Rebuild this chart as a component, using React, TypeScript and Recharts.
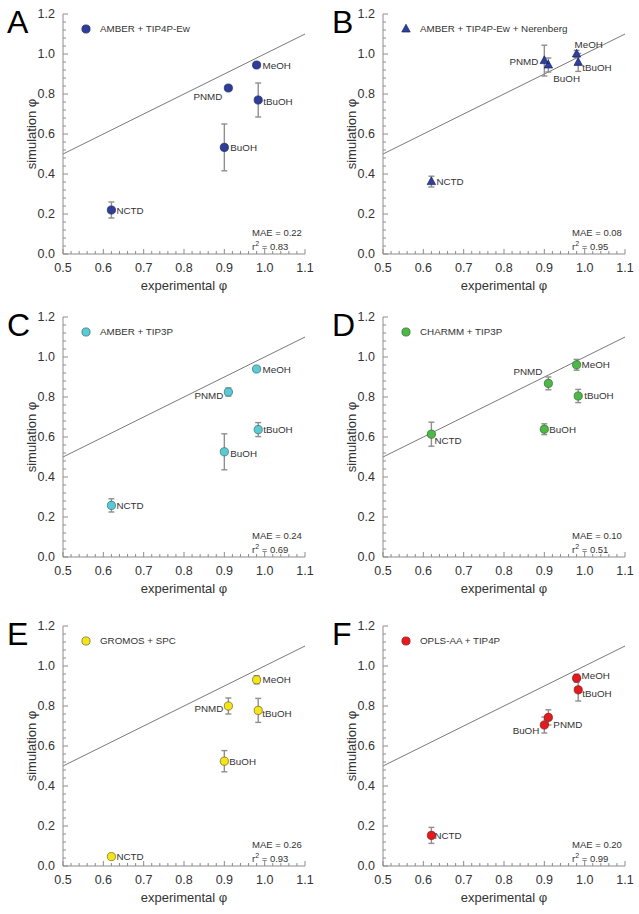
import React from 'react';
import { ScatterChart, Scatter, XAxis, YAxis, ErrorBar, ReferenceLine, Legend } from 'recharts';

// ---------- data ----------
const compounds = ['NCTD', 'PNMD', 'BuOH', 'MeOH', 'tBuOH'];
const experimental = [0.62, 0.91, 0.9, 0.98, 0.984];

const simA = [0.22, 0.83, 0.533, 0.945, 0.77];
const errA = [0.04, 0.01, 0.117, 0.0, 0.085];
const simB = [0.362, 0.945, 0.967, 1.0, 0.958];
const errB = [0.027, 0.035, 0.077, 0.018, 0.045];
const simC = [0.258, 0.825, 0.526, 0.94, 0.637];
const errC = [0.033, 0.02, 0.09, 0.0, 0.035];
const simD = [0.614, 0.868, 0.639, 0.961, 0.805];
const errD = [0.06, 0.032, 0.027, 0.027, 0.033];
const simE = [0.047, 0.8, 0.524, 0.931, 0.778];
const errE = [0.0, 0.04, 0.053, 0.02, 0.06];
const simF = [0.153, 0.743, 0.705, 0.939, 0.881];
const errF = [0.04, 0.038, 0.04, 0.02, 0.056];

const panelLetters = ['A', 'B', 'C', 'D', 'E', 'F'];
const panelNames = [
  'AMBER + TIP4P-Ew',
  'AMBER + TIP4P-Ew + Nerenberg',
  'AMBER + TIP3P',
  'CHARMM + TIP3P',
  'GROMOS + SPC',
  'OPLS-AA + TIP4P',
];
const maeValues = ['0.22', '0.08', '0.24', '0.10', '0.26', '0.20'];
const r2Values = ['0.83', '0.95', '0.69', '0.51', '0.93', '0.99'];

const xMajorTicks = [0.5, 0.6, 0.7, 0.8, 0.9, 1.0, 1.1];
const yMajorTicks = [0.0, 0.2, 0.4, 0.6, 0.8, 1.0, 1.2];
const identityLine = [0.5, 1.1];

// ---------- styling ----------
const FONT = '"Liberation Sans", Arial, Helvetica, sans-serif';
const FRAME = '#8c8c8c';
const TEXT = '#333';
const W = 320;
const H = 300;
const YW = 63;
const XH = 46;
const MT = 14;
const MR = 15;
const PLOT_H = H - MT - XH;

const styles = [
  { fill: '#2d3d99', stroke: '#1b245e', shape: 'circle' },
  { fill: '#2e3f9e', stroke: '#1b245e', shape: 'triangle' },
  { fill: '#5ccad3', stroke: '#2b6c78', shape: 'circle' },
  { fill: '#4db848', stroke: '#2c6a2a', shape: 'circle' },
  { fill: '#f4e41c', stroke: '#6d6512', shape: 'circle' },
  { fill: '#e31b1f', stroke: '#8a1212', shape: 'circle' },
];

const positions = [
  { left: 0, top: 0 },
  { left: 320, top: 0 },
  { left: 0, top: 303 },
  { left: 320, top: 303 },
  { left: 0, top: 612 },
  { left: 320, top: 612 },
];
const letterX = [7, 12, 7, 12, 7, 12];

// label offsets: [dx, dy(center), anchor]
const labelPos: Record<string, Record<string, [number, number, string]>> = {
  A: { MeOH: [6, 0, 'start'], PNMD: [-6, 8, 'end'], tBuOH: [5, 1, 'start'], BuOH: [6, 0, 'start'], NCTD: [5, 0, 'start'] },
  B: { MeOH: [-2, -10, 'start'], PNMD: [-10, -4, 'end'], tBuOH: [4, 5, 'start'], BuOH: [9, 18, 'start'], NCTD: [5, 0, 'start'] },
  C: { MeOH: [6, 0, 'start'], PNMD: [-5, 3, 'end'], tBuOH: [5, 0, 'start'], BuOH: [6, 2, 'start'], NCTD: [5, 0, 'start'] },
  D: { MeOH: [5, 0, 'start'], PNMD: [-6, -12, 'end'], tBuOH: [6, -1, 'start'], BuOH: [5, 0, 'start'], NCTD: [3, 6, 'start'] },
  E: { MeOH: [6, 0, 'start'], PNMD: [-5, 2, 'end'], tBuOH: [4, 3, 'start'], BuOH: [5, 0, 'start'], NCTD: [5, 0, 'start'] },
  F: { MeOH: [5, -3, 'start'], PNMD: [5, 7, 'start'], tBuOH: [4, 4, 'start'], BuOH: [-5, 5, 'end'], NCTD: [3, 0, 'start'] },
};

const round2 = (v: number) => Math.round(v * 100) / 100;
const xMinorTicks: number[] = [];
for (let v = 0.5; v <= 1.1001; v += 0.02) xMinorTicks.push(round2(v));
const yMinorTicks: number[] = [];
for (let v = 0; v <= 1.2001; v += 0.04) yMinorTicks.push(round2(v));

const isMajor = (v: number, majors: number[]) => majors.some((m) => Math.abs(m - v) < 1e-6);

const BottomTick = (props: any) => {
  const { x, y, payload } = props;
  const major = isMajor(payload.value, xMajorTicks);
  return (
    <g>
      <line x1={x} x2={x} y1={y} y2={y - (major ? 5 : 3)} stroke={FRAME} />
      {major && (
        <text x={x} y={y + 17.5} textAnchor="middle" fontSize={12.5} fill={TEXT} fontFamily={FONT}>
          {Number(payload.value).toFixed(1)}
        </text>
      )}
    </g>
  );
};
const TopTick = (props: any) => {
  const { x, y, payload } = props;
  const major = isMajor(payload.value, xMajorTicks);
  return <line x1={x} x2={x} y1={y} y2={y + (major ? 5 : 3)} stroke={FRAME} />;
};
const LeftTick = (props: any) => {
  const { x, y, payload } = props;
  const major = isMajor(payload.value, yMajorTicks);
  return (
    <g>
      <line x1={x} x2={x + (major ? 5 : 3)} y1={y} y2={y} stroke={FRAME} />
      {major && (
        <text x={x - 8} y={y + 4.4} textAnchor="end" fontSize={12.5} fill={TEXT} fontFamily={FONT}>
          {Number(payload.value).toFixed(1)}
        </text>
      )}
    </g>
  );
};
const RightTick = (props: any) => {
  const { x, y, payload } = props;
  const major = isMajor(payload.value, yMajorTicks);
  return <line x1={x} x2={x - (major ? 5 : 3)} y1={y} y2={y} stroke={FRAME} />;
};

const Marker = ({ cx, cy, style }: any) =>
  style.shape === 'triangle' ? (
    <polygon
      points={`${cx},${cy - 4.8} ${cx - 4.2},${cy + 3} ${cx + 4.2},${cy + 3}`}
      fill={style.fill}
      stroke={style.stroke}
      strokeWidth={0.7}
    />
  ) : (
    <circle cx={cx} cy={cy} r={4.1} fill={style.fill} stroke={style.stroke} strokeWidth={0.7} />
  );

const makeShape = (letter: string, style: any) => (props: any) => {
  const { cx, cy, payload } = props;
  const lp = labelPos[letter][payload.name] || [5, 0, 'start'];
  return (
    <g>
      <Marker cx={cx} cy={cy} style={style} />
      <text
        x={cx + lp[0]}
        y={cy + lp[1] + 3.5}
        textAnchor={lp[2] as any}
        fontSize={9.8}
        fill={TEXT}
        fontFamily={FONT}
      >
        {payload.name}
      </text>
    </g>
  );
};

const Panel = ({ idx, sim, err }: { idx: number; sim: number[]; err: number[] }) => {
  const letter = panelLetters[idx];
  const style = styles[idx];
  const data = compounds.map((name, i) => ({ name, x: experimental[i], y: sim[i], err: err[i] }));
  const pos = positions[idx];
  const shape = makeShape(letter, style);

  const legendContent = () => (
    <div style={{ display: 'flex', alignItems: 'center', fontFamily: FONT, whiteSpace: 'nowrap' }}>
      <svg width={12} height={12}>
        <Marker cx={6} cy={6} style={style} />
      </svg>
      <span style={{ marginLeft: 8, fontSize: 9.8, color: TEXT, lineHeight: '12px' }}>{panelNames[idx]}</span>
    </div>
  );

  return (
    <div style={{ position: 'absolute', left: pos.left, top: pos.top, width: W, height: H }}>
      <ScatterChart width={W} height={H} margin={{ top: MT, right: MR, left: 0, bottom: 0 }}>
        <XAxis
          xAxisId="b"
          type="number"
          dataKey="x"
          domain={[0.5, 1.1]}
          ticks={xMinorTicks}
          interval={0}
          allowDataOverflow
          tickLine={false}
          tickSize={0}
          tickMargin={0}
          tick={<BottomTick />}
          axisLine={{ stroke: FRAME }}
          height={XH}
          label={{ value: 'experimental φ', position: 'insideBottom', offset: 10, fill: TEXT, fontSize: 13 }}
        />
        <XAxis
          xAxisId="t"
          orientation="top"
          type="number"
          domain={[0.5, 1.1]}
          ticks={xMinorTicks}
          interval={0}
          allowDataOverflow
          tickLine={false}
          tickSize={0}
          tickMargin={0}
          tick={<TopTick />}
          axisLine={{ stroke: FRAME }}
          height={0}
        />
        <YAxis
          yAxisId="l"
          type="number"
          dataKey="y"
          domain={[0, 1.2]}
          ticks={yMinorTicks}
          interval={0}
          allowDataOverflow
          tickLine={false}
          tickSize={0}
          tickMargin={0}
          tick={<LeftTick />}
          axisLine={{ stroke: FRAME }}
          width={YW}
          label={{
            value: 'simulation φ',
            angle: -90,
            position: 'insideLeft',
            offset: 31,
            fill: TEXT,
            fontSize: 13,
            style: { textAnchor: 'middle' },
          }}
        />
        <YAxis
          yAxisId="r"
          orientation="right"
          type="number"
          domain={[0, 1.2]}
          ticks={yMinorTicks}
          interval={0}
          allowDataOverflow
          tickLine={false}
          tickSize={0}
          tickMargin={0}
          tick={<RightTick />}
          axisLine={{ stroke: FRAME }}
          width={0}
        />
        <ReferenceLine
          xAxisId="b"
          yAxisId="l"
          segment={[
            { x: identityLine[0], y: identityLine[0] },
            { x: identityLine[1], y: identityLine[1] },
          ]}
          stroke="#7a7a7a"
          strokeWidth={1}
          ifOverflow="visible"
        />
        <Scatter
          xAxisId="b"
          yAxisId="l"
          data={data}
          dataKey="y"
          name={panelNames[idx]}
          shape={shape}
          isAnimationActive={false}
        >
          <ErrorBar dataKey="err" direction="y" width={3} stroke="#8f8f8f" strokeWidth={1.4} isAnimationActive={false} />
        </Scatter>
        <Legend
          layout="vertical"
          align="center"
          verticalAlign="middle"
          content={legendContent}
          wrapperStyle={{ top: MT + 9, left: YW + 17, width: 230, height: 12 }}
        />
      </ScatterChart>
      <svg
        width={W}
        height={H}
        style={{ position: 'absolute', left: 0, top: 0, pointerEvents: 'none', overflow: 'visible' }}
      >
        <text x={letterX[idx]} y={MT + 19} fontSize={32} fill="#000" fontFamily={FONT}>
          {letter}
        </text>
        <text x={YW + 189} y={MT + PLOT_H - 18} fontSize={9.5} fill={TEXT} fontFamily={FONT}>
          {`MAE = ${maeValues[idx]}`}
        </text>
        <text x={YW + 189} y={MT + PLOT_H - 4.5} fontSize={9.5} fill={TEXT} fontFamily={FONT}>
          r
          <tspan fontSize={7} dy={-4}>
            2
          </tspan>
          <tspan dy={4}>{` = ${r2Values[idx]}`}</tspan>
        </text>
      </svg>
    </div>
  );
};

export default function App() {
  const sims = [simA, simB, simC, simD, simE, simF];
  const errs = [errA, errB, errC, errD, errE, errF];
  return (
    <div
      style={{
        position: 'absolute',
        left: 0,
        top: 0,
        width: 639,
        height: 914,
        background: '#fff',
        fontFamily: FONT,
        overflow: 'hidden',
      }}
    >
      {sims.map((s, i) => (
        <Panel key={i} idx={i} sim={s} err={errs[i]} />
      ))}
    </div>
  );
}
